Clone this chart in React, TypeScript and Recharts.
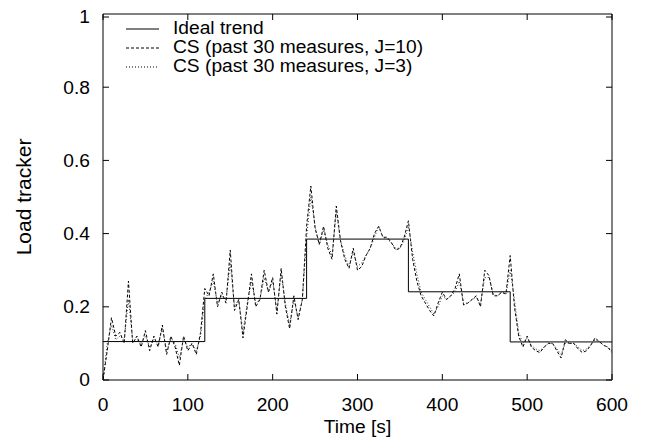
import { LineChart, Line, XAxis, YAxis } from 'recharts'

const times = [
  0, 5, 10, 15, 20, 25, 30, 35, 40, 45, 50, 55, 60, 65, 70, 75, 80, 85, 90, 95,
  100, 105, 110, 115, 120, 125, 130, 135, 140, 145, 150, 155, 160, 165, 170, 175, 180, 185, 190, 195,
  200, 205, 210, 215, 220, 225, 230, 235, 240, 245, 250, 255, 260, 265, 270, 275, 280, 285, 290, 295,
  300, 305, 310, 315, 320, 325, 330, 335, 340, 345, 350, 355, 360, 365, 370, 375, 380, 385, 390, 395,
  400, 405, 410, 415, 420, 425, 430, 435, 440, 445, 450, 455, 460, 465, 470, 475, 480, 485, 490, 495,
  500, 505, 510, 515, 520, 525, 530, 535, 540, 545, 550, 555, 560, 565, 570, 575, 580, 585, 590, 595,
  600,
]

const csJ10 = [
  0.0, 0.08, 0.17, 0.12, 0.13, 0.1, 0.27, 0.1, 0.12, 0.09, 0.135, 0.08, 0.12, 0.09, 0.15, 0.07, 0.12, 0.09, 0.04, 0.12,
  0.08, 0.1, 0.07, 0.13, 0.25, 0.23, 0.29, 0.2, 0.24, 0.21, 0.355, 0.19, 0.22, 0.115, 0.2, 0.29, 0.2, 0.22, 0.3, 0.24,
  0.28, 0.18, 0.305, 0.2, 0.14, 0.23, 0.165, 0.22, 0.42, 0.53, 0.415, 0.37, 0.42, 0.36, 0.33, 0.475, 0.38, 0.33, 0.305, 0.36,
  0.3, 0.31, 0.34, 0.36, 0.4, 0.42, 0.39, 0.39, 0.375, 0.355, 0.36, 0.39, 0.435, 0.33, 0.27, 0.23, 0.21, 0.19, 0.175, 0.21,
  0.24, 0.22, 0.23, 0.25, 0.29, 0.205, 0.21, 0.22, 0.23, 0.2, 0.3, 0.285, 0.23, 0.23, 0.24, 0.235, 0.34, 0.2, 0.12, 0.09,
  0.12, 0.09, 0.08, 0.075, 0.09, 0.1, 0.1, 0.08, 0.06, 0.11, 0.1, 0.1, 0.085, 0.075, 0.08, 0.095, 0.115, 0.105, 0.095, 0.09,
  0.075,
]

const csJ3 = [
  0.0, 0.1, 0.15, 0.11, 0.12, 0.11, 0.22, 0.11, 0.11, 0.1, 0.12, 0.09, 0.11, 0.1, 0.14, 0.08, 0.11, 0.1, 0.06, 0.11,
  0.09, 0.1, 0.08, 0.12, 0.22, 0.24, 0.27, 0.21, 0.23, 0.22, 0.32, 0.2, 0.22, 0.13, 0.21, 0.27, 0.21, 0.22, 0.28, 0.24,
  0.27, 0.19, 0.29, 0.21, 0.15, 0.22, 0.17, 0.22, 0.39, 0.5, 0.42, 0.37, 0.41, 0.37, 0.34, 0.46, 0.38, 0.34, 0.31, 0.35,
  0.31, 0.32, 0.34, 0.36, 0.39, 0.42, 0.39, 0.385, 0.375, 0.36, 0.36, 0.38, 0.42, 0.35, 0.29, 0.24, 0.22, 0.2, 0.18, 0.2,
  0.23, 0.22, 0.23, 0.24, 0.27, 0.21, 0.21, 0.22, 0.225, 0.21, 0.28, 0.28, 0.235, 0.23, 0.24, 0.235, 0.3, 0.22, 0.13, 0.1,
  0.115, 0.095, 0.085, 0.08, 0.09, 0.1, 0.1, 0.085, 0.07, 0.1, 0.1, 0.1, 0.09, 0.08, 0.085, 0.095, 0.11, 0.105, 0.095, 0.09,
  0.08,
]

// step levels of the ideal trend
const idealTimes = [0, 120, 240, 360, 480, 600]
const idealLoad = [0.105, 0.223, 0.385, 0.241, 0.104, 0.104]

const xTicks = [0, 100, 200, 300, 400, 500, 600]
const yTicks = [0, 0.2, 0.4, 0.6, 0.8, 1]

const rows = times.map((t, i) => ({ t, j10: csJ10[i], j3: csJ3[i] }))
const idealRows = idealTimes.map((t, i) => ({ t, ideal: idealLoad[i] }))

const FONT = '"Liberation Sans", Arial, Helvetica, sans-serif'
const FS = 17.7
const SX = 1.085 // the source text is a bit wider than it is tall
const TICK = 6

const legendItems = [
  { label: 'Ideal trend', dash: undefined },
  { label: 'CS (past 30 measures, J=10)', dash: '3 2' },
  { label: 'CS (past 30 measures, J=3)', dash: '1 2' },
]

// gnuplot style: tick marks point into the plot
const BottomTick = ({ x, y, payload, m }: any) => (
  <g transform={`translate(${x},${y})`}>
    <line x1={0} x2={0} y1={-m} y2={-m - TICK} stroke="#000" />
    <text transform={`scale(${SX},1)`} textAnchor="middle" dy="0.72em" fontFamily={FONT} fontSize={FS} fill="#000">
      {payload.value}
    </text>
  </g>
)

const LeftTick = ({ x, y, payload, m }: any) => (
  <g transform={`translate(${x},${y})`}>
    <line x1={m} x2={m + TICK} y1={0} y2={0} stroke="#000" />
    <text transform={`scale(${SX},1)`} textAnchor="end" dy="0.36em" fontFamily={FONT} fontSize={FS} fill="#000">
      {payload.value}
    </text>
  </g>
)

const TopTick = ({ x, y, m }: any) => (
  <line x1={x} x2={x} y1={y + m} y2={y + m + TICK} stroke="#000" />
)

const RightTick = ({ x, y, m }: any) => (
  <line x1={x - m} x2={x - m - TICK} y1={y} y2={y} stroke="#000" />
)

export default function App() {
  return (
    <div style={{ position: 'relative', width: 639, height: 437, background: '#fff' }}>
      <LineChart
        width={639}
        height={437}
        data={rows}
        margin={{ top: 0, right: 29, left: 35, bottom: 0 }}
      >
        <XAxis
          dataKey="t"
          type="number"
          domain={[0, 600]}
          ticks={xTicks}
          allowDataOverflow
          height={65}
          tickLine={false}
          tickSize={0}
          tickMargin={18}
          tick={<BottomTick m={18} />}
          stroke="#000"
          label={{
            content: ({ viewBox }: any) => (
              <text
                transform={`translate(${viewBox.x + viewBox.width / 2},${viewBox.y + 53}) scale(${SX},1)`}
                textAnchor="middle"
                fontFamily={FONT}
                fontSize={FS}
              >
                Time [s]
              </text>
            ),
          }}
        />
        <XAxis
          xAxisId="top"
          dataKey="t"
          orientation="top"
          type="number"
          domain={[0, 600]}
          ticks={xTicks}
          allowDataOverflow
          height={6}
          tickLine={false}
          tickSize={0}
          tickMargin={2}
          tick={<TopTick m={2} />}
          stroke="#000"
        />
        <YAxis
          type="number"
          domain={[0, 1]}
          ticks={yTicks}
          width={60}
          tickLine={false}
          tickSize={0}
          tickMargin={13}
          tick={<LeftTick m={13} />}
          stroke="#000"
          label={{
            content: ({ viewBox }: any) => (
              <text
                x={15.5}
                y={viewBox.y + viewBox.height / 2}
                textAnchor="middle"
                dominantBaseline="central"
                transform={`rotate(-90, 15.5, ${viewBox.y + viewBox.height / 2})`}
                fontFamily={FONT}
                fontSize={21}
              >
                Load tracker
              </text>
            ),
          }}
        />
        <YAxis
          yAxisId="right"
          orientation="right"
          type="number"
          domain={[0, 1]}
          ticks={yTicks}
          allowDataOverflow
          width={6}
          tickLine={false}
          tickSize={0}
          tickMargin={2}
          tick={<RightTick m={2} />}
          stroke="#000"
        />
        {/* invisible series so the frame axes (top / right) get drawn */}
        <Line
          xAxisId="top"
          yAxisId="right"
          dataKey="j10"
          stroke="none"
          dot={false}
          activeDot={false}
          legendType="none"
          isAnimationActive={false}
        />
        <Line
          data={idealRows}
          dataKey="ideal"
          type="stepAfter"
          stroke="#000"
          strokeWidth={1}
          dot={false}
          isAnimationActive={false}
        />
        <Line
          dataKey="j10"
          type="linear"
          stroke="#000"
          strokeWidth={1}
          strokeDasharray="3 2"
          dot={false}
          isAnimationActive={false}
        />
        <Line
          dataKey="j3"
          type="linear"
          stroke="#333"
          strokeWidth={1}
          strokeDasharray="1 2"
          dot={false}
          isAnimationActive={false}
        />
      </LineChart>

      <svg
        width={639}
        height={437}
        style={{ position: 'absolute', left: 0, top: 0, pointerEvents: 'none' }}
      >
        {legendItems.map((it, i) => (
          <g key={it.label} transform={`translate(0,${26 + i * 19})`}>
            <line x1={118} x2={151} y1={-5} y2={-5} stroke="#000" strokeWidth={1} strokeDasharray={it.dash} />
            <text transform={`translate(165,0) scale(${SX},1)`} fontFamily={FONT} fontSize={FS} fill="#000">
              {it.label}
            </text>
          </g>
        ))}
      </svg>
    </div>
  )
}
